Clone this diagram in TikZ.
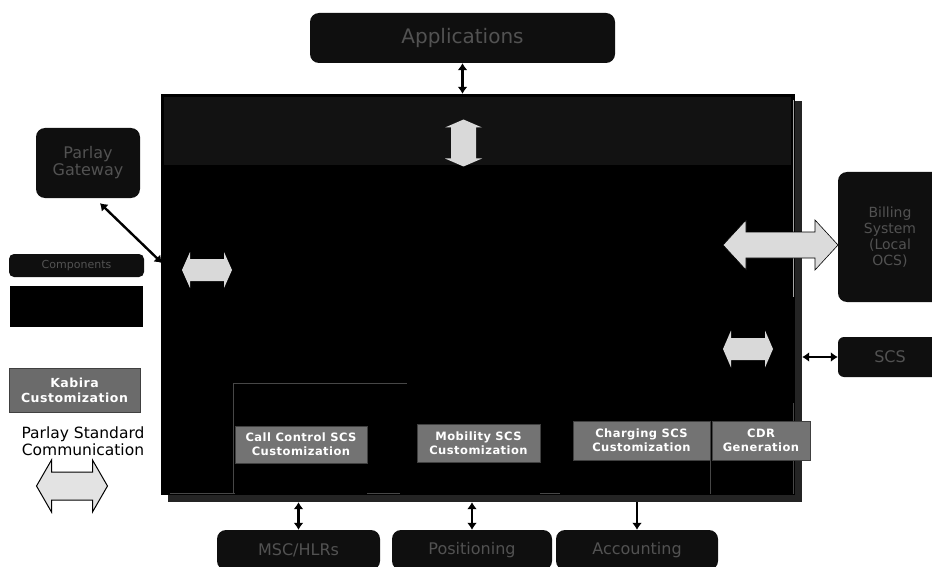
\documentclass[tikz,border=0pt]{standalone}
\usepackage{fontspec}
\setmainfont{DejaVu Sans}
\usetikzlibrary{arrows.meta,positioning,calc}

\tikzset{
  % dark external boxes
  extbox/.style={rounded corners=9pt, fill=black!94, text=black!68, align=center, inner sep=0pt,
    font=\fontsize{16}{17}\selectfont},
  % grey customization boxes
  custbox/.style={fill=black!55, draw=black!75, text=white, align=center, inner sep=0pt,
    font=\fontsize{11.5}{14}\selectfont\bfseries\addfontfeature{LetterSpace=4}},
  conn/.style={{Latex[length=7pt,width=10pt]}-{Latex[length=7pt,width=10pt]}, line width=2.4pt},
  oneway/.style={-{Latex[length=7pt,width=10pt]}, line width=2.4pt},
  faint/.style={black!72, line width=0.6pt},
  % block double arrow: length / head width / shaft width / head length
  pics/dblarrow/.style n args={4}{code={
    \path[pic actions] (-#1/2,0) -- (-#1/2+#4,-#2/2) -- (-#1/2+#4,-#3/2) -- (#1/2-#4,-#3/2)
      -- (#1/2-#4,-#2/2) -- (#1/2,0) -- (#1/2-#4,#2/2) -- (#1/2-#4,#3/2)
      -- (-#1/2+#4,#3/2) -- (-#1/2+#4,#2/2) -- cycle;
  }}
}

\begin{document}
\begin{tikzpicture}[x=1pt,y=-1pt]
\useasboundingbox (0,0) rectangle (932,567);
% Main platform with shadow
\node[fill=black!86, minimum width=634pt, minimum height=401pt, inner sep=0pt] (shadow) at (485,301.5) {};
\node[fill=black, minimum width=634pt, minimum height=401pt, inner sep=0pt] (main) at (478,294.5) {};
\fill[black!93] (164,97) rectangle (791,165);
\draw[gray!70, line width=0.8pt] (793,100) -- (793,297);
% faint inner panels
\draw[faint] (233,383) -- (407,383);
\draw[faint] (233,383) -- (233,493);
\draw[faint] (793,403) -- (793,494);
\draw[faint] (710,460) -- (710,494);
\draw[faint] (170,493) -- (235,493) (367,493) -- (400,493) (540,493) -- (560,493);

% External boxes
\node[extbox, minimum width=305pt, minimum height=50pt, font=\fontsize{20}{22}\selectfont] (app) at (462.5,38) {Applications};
\node[extbox, minimum width=104pt, minimum height=70pt] (gw) at (88,163) {Parlay\\Gateway};
\node[extbox, minimum width=104pt, minimum height=130pt, font=\fontsize{14}{16}\selectfont] (bill) at (890,237) {Billing\\System\\(Local\\OCS)};
\node[extbox, rounded corners=6pt, minimum width=104pt, minimum height=40pt] (scs) at (890,357) {SCS};
\node[extbox, minimum width=163pt, minimum height=40pt] (msc) at (298.5,550) {MSC/HLRs};
\node[extbox, minimum width=160pt, minimum height=40pt] (pos) at (472,550) {Positioning};
\node[extbox, minimum width=162pt, minimum height=40pt] (acc) at (637,550) {Accounting};

% Customization boxes
\node[custbox, minimum width=132pt, minimum height=37pt] (cc) at (301,444.5) {Call Control SCS\\Customization};
\node[custbox, minimum width=123pt, minimum height=38pt] (mob) at (478.5,443) {Mobility SCS\\Customization};
\node[custbox, minimum width=137pt, minimum height=39pt] (chg) at (641.5,440.5) {Charging SCS\\Customization};
\node[custbox, minimum width=98pt, minimum height=39pt] (cdr) at (761,440.5) {CDR\\Generation};

% Legend
\node[extbox, rounded corners=5pt, minimum width=135pt, minimum height=23pt, font=\fontsize{11}{12}\selectfont] (legext) at (76.5,265.5) {Components};
\node[fill=black, minimum width=133pt, minimum height=41pt, inner sep=0pt] (legblk) at (76.5,306.5) {};
\node[custbox, minimum width=131pt, minimum height=44pt, fill=black!58, font=\fontsize{12.5}{15}\selectfont\bfseries\addfontfeature{LetterSpace=4}] (kab) at (74.5,390) {Kabira\\Customization};
\node[align=center, font=\fontsize{15.5}{17}\selectfont] (std) at (83,441) {Parlay Standard\\Communication};
\pic[fill=gray!22, draw=black, line width=1pt] at (72,486) {dblarrow={71}{52}{28}{15}};

% Parlay block arrows
\pic[fill=gray!30] at (463.5,143) [rotate=90] {dblarrow={47}{37}{25}{8}};
\pic[fill=gray!30] at (207,270) {dblarrow={50}{36}{22}{8}};
\pic[fill=gray!28, draw=black, line width=0.6pt] at (780.5,245) {dblarrow={115}{50}{26}{23}};
\pic[fill=gray!30] at (748,349) {dblarrow={50}{37}{22}{8}};

% Connectors
\coordinate (gwin) at (162,263);
\draw[conn] (app.south) -- (app.south |- main.north);
\draw[conn] ([shift={(12,5)}]gw.south) -- (gwin);
\draw[conn] (shadow.east |- scs.west) -- (scs.west);
\draw[conn] (msc.north) -- (msc.north |- shadow.south);
\draw[conn] (pos.north) -- (pos.north |- shadow.south);
\draw[oneway] (acc.north |- shadow.south) -- (acc.north);
\end{tikzpicture}
\end{document}
